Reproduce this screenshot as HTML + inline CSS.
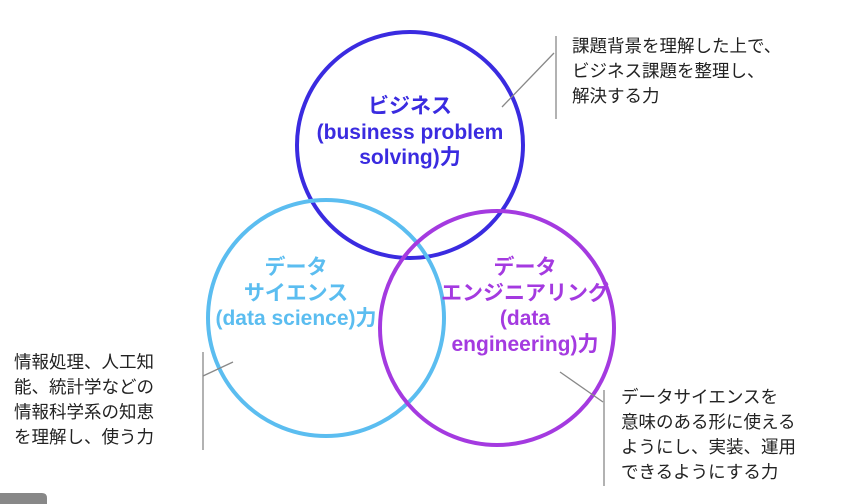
<!DOCTYPE html>
<html><head><meta charset="utf-8"><style>
body{margin:0;width:842px;height:504px;background:#fff;overflow:hidden;position:relative;font-family:"Liberation Sans","Noto Sans CJK JP",sans-serif}
.t{position:absolute;font-size:17.5px;line-height:25px;color:#222;white-space:nowrap}
.c{position:absolute;font-size:21px;line-height:25.5px;font-weight:bold;text-align:center;white-space:nowrap}
</style></head><body>
<svg width="842" height="504" style="position:absolute;left:0;top:0">
<circle cx="410" cy="145" r="113" fill="none" stroke="#3a2be0" stroke-width="4"/>
<circle cx="326" cy="318" r="118" fill="none" stroke="#5bbdf0" stroke-width="4"/>
<circle cx="497" cy="328" r="117" fill="none" stroke="#a43ae0" stroke-width="4"/>
<g stroke="#888" stroke-width="1.3" fill="none">
<line x1="556" y1="36" x2="556" y2="119"/><line x1="502" y1="107" x2="554" y2="53"/>
<line x1="203" y1="352" x2="203" y2="450"/><line x1="203" y1="376" x2="233" y2="362"/>
<line x1="604" y1="390" x2="604" y2="486"/><line x1="560" y1="372" x2="603" y2="402"/>
</g>
<path d="M0 493 H42 Q47 493 47 498 V504 H0Z" fill="#888"/>
</svg>
<div class="c" style="left:290px;top:94px;width:240px;color:#3a2be0">ビジネス<br>(business problem<br>solving)力</div>
<div class="c" style="left:186px;top:255px;width:220px;color:#5bbdf0">データ<br>サイエンス<br>(data science)力</div>
<div class="c" style="left:415px;top:255px;width:220px;color:#a43ae0">データ<br>エンジニアリング<br>(data<br>engineering)力</div>
<div class="t" style="left:572px;top:34px">課題背景を理解した上で、<br>ビジネス課題を整理し、<br>解決する力</div>
<div class="t" style="left:14px;top:350px">情報処理、人工知<br>能、統計学などの<br>情報科学系の知恵<br>を理解し、使う力</div>
<div class="t" style="left:621px;top:385px">データサイエンスを<br>意味のある形に使える<br>ようにし、実装、運用<br>できるようにする力</div>
</body></html>
